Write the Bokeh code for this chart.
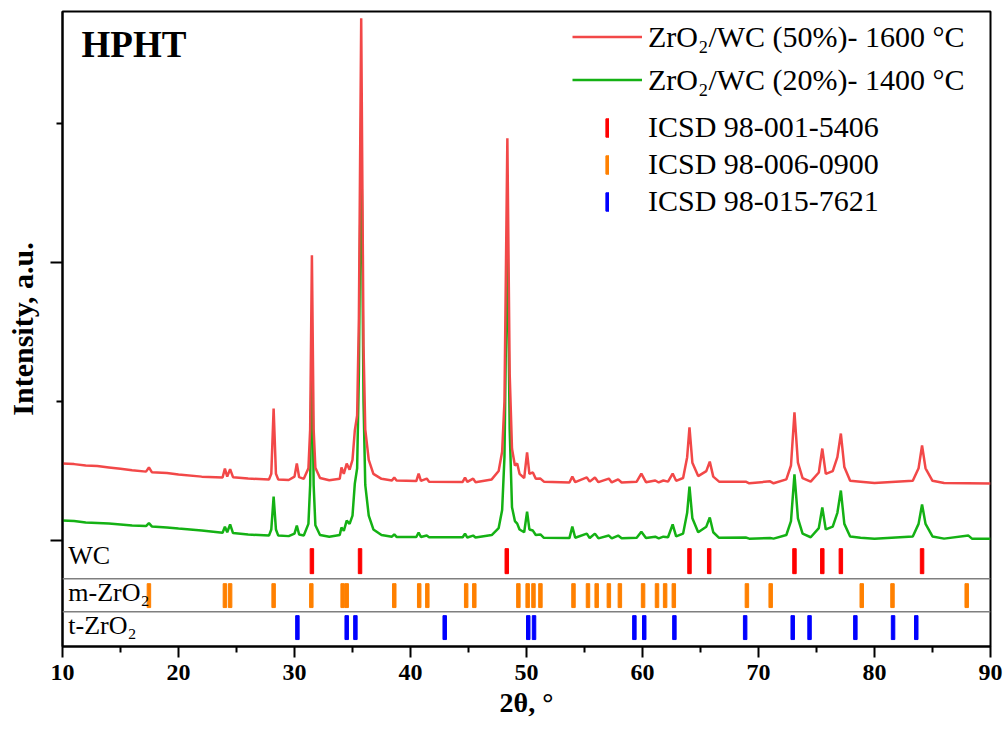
from bokeh.plotting import figure
from bokeh.models import Range1d, FixedTicker, Legend, LegendItem, Label, Span
from bokeh.core.properties import value
from bokeh.embed import file_html
from bokeh.resources import INLINE

# ---------------- data ----------------
two_theta_red = [10.0, 11.0, 12.0, 13.0, 14.0, 15.0, 16.0, 17.2, 17.45, 17.7, 19.0, 20.0, 22.0,
                 23.8, 24.0, 24.2, 24.45, 24.7, 26.0, 27.8, 28.0, 28.2, 28.4, 28.6, 29.5, 30.0,
                 30.2, 30.4, 30.8, 31.2, 31.35, 31.5, 31.65, 31.8, 32.2, 33.0, 33.9, 34.05, 34.25,
                 34.5, 34.75, 35.0, 35.2, 35.4, 35.55, 35.75, 35.95, 36.1, 36.4, 36.8, 37.5, 38.4,
                 38.6, 38.8, 40.5, 40.7, 40.9, 41.4, 41.6, 44.5, 44.7, 44.9, 45.4, 45.6, 47.0,
                 47.6, 47.9, 48.1, 48.35, 48.55, 48.75, 49.0, 49.2, 49.4, 49.8, 50.05, 50.25,
                 50.55, 50.8, 51.2, 51.5, 53.7, 53.95, 54.2, 55.2, 55.45, 55.9, 56.2, 57.1,
                 57.35, 57.9, 58.2, 59.5, 59.9, 60.3, 61.1, 61.4, 61.8, 62.2, 62.6, 62.9, 63.5,
                 63.85, 64.05, 64.3, 64.8, 65.5, 65.8, 66.1, 66.6, 68.9, 69.2, 71.0, 71.3, 72.4,
                 72.8, 73.1, 73.4, 73.8, 74.5, 75.2, 75.5, 75.8, 76.4, 76.8, 77.1, 77.4, 77.9,
                 78.8, 80.0, 83.3, 83.8, 84.1, 84.4, 85.0, 86.0, 90.0]
intensity_red = [277, 275, 270, 268, 263, 258, 253, 248, 263, 246, 243, 238, 230,
                 227, 259, 230, 257, 228, 223, 220, 240, 475, 240, 220, 218, 230,
                 277, 228, 222, 260, 400, 1026, 400, 262, 225, 217, 222, 263, 240,
                 277, 255, 290, 396, 450, 800, 1879, 700, 400, 290, 240, 222, 216,
                 227, 216, 214, 241, 215, 223, 212, 211, 227, 211, 223, 210, 220,
                 250, 320, 500, 1447, 600, 330, 270, 277, 240, 225, 317, 240,
                 245, 222, 223, 212, 209, 230, 210, 227, 212, 227, 210, 223,
                 209, 220, 209, 212, 241, 210, 216, 209, 216, 212, 241, 215, 225,
                 300, 407, 280, 232, 250, 284, 230, 212, 212, 206, 213, 206, 220,
                 270, 461, 280, 225, 212, 245, 331, 240, 250, 300, 385, 265, 215,
                 212, 207, 215, 260, 342, 260, 215, 207, 205]

two_theta_green = [10.0, 11.0, 12.0, 13.0, 14.0, 15.0, 16.0, 17.2, 17.45, 17.7, 19.0, 20.0, 22.0,
                   23.8, 24.0, 24.2, 24.45, 24.7, 26.0, 27.8, 28.0, 28.2, 28.4, 28.6, 29.5, 30.0,
                   30.2, 30.4, 30.8, 31.2, 31.35, 31.5, 31.65, 31.8, 32.2, 33.0, 33.9, 34.05, 34.25,
                   34.5, 34.75, 35.0, 35.2, 35.4, 35.55, 35.75, 35.95, 36.1, 36.4, 36.8, 37.5, 38.4,
                   38.6, 38.8, 40.5, 40.7, 40.9, 41.4, 41.6, 44.5, 44.7, 44.9, 45.4, 45.6, 47.0,
                   47.6, 47.9, 48.1, 48.35, 48.55, 48.75, 49.0, 49.2, 49.4, 49.8, 50.05, 50.25,
                   50.55, 50.8, 51.2, 51.5, 53.7, 53.95, 54.2, 55.2, 55.45, 55.9, 56.2, 57.1,
                   57.35, 57.9, 58.2, 59.5, 59.9, 60.3, 61.1, 61.4, 61.8, 62.2, 62.6, 62.9, 63.5,
                   63.85, 64.05, 64.3, 64.8, 65.5, 65.8, 66.1, 66.6, 68.9, 69.2, 71.0, 71.3, 72.4,
                   72.8, 73.1, 73.4, 73.8, 74.5, 75.2, 75.5, 75.8, 76.4, 76.8, 77.1, 77.4, 77.9,
                   78.8, 80.0, 83.3, 83.8, 84.1, 84.4, 85.0, 86.0, 88.1, 88.4, 90.0]
intensity_green = [72, 70, 65, 63, 61, 58, 54, 52, 63, 51, 47, 43, 36,
                   28, 50, 30, 58, 27, 22, 18, 40, 158, 40, 18, 16, 25,
                   54, 22, 18, 60, 200, 734, 200, 55, 20, 14, 20, 47, 35,
                   72, 60, 90, 205, 260, 600, 1526, 500, 200, 90, 40, 20, 14,
                   22, 13, 13, 29, 13, 18, 12, 12, 25, 11, 18, 11, 20,
                   45, 110, 300, 1127, 400, 120, 70, 61, 40, 30, 104, 40,
                   36, 20, 22, 10, 9, 50, 10, 25, 9, 25, 8, 18,
                   8, 18, 8, 10, 32, 9, 14, 8, 14, 12, 58, 15, 25,
                   100, 194, 80, 30, 50, 83, 30, 10, 11, 7, 9, 7, 20,
                   70, 238, 80, 25, 12, 45, 119, 40, 50, 100, 180, 60, 15,
                   10, 7, 15, 60, 130, 60, 15, 7, 18, 7, 7]

wc_positions = [31.5, 35.65, 48.3, 64.05, 65.75, 73.1, 75.5, 77.1, 84.1]
m_zro2_positions = [17.45, 24.0, 24.45, 28.2, 31.45, 34.15, 34.5, 38.6, 40.75, 41.45, 44.8, 45.5,
                    49.3, 50.1, 50.6, 51.2, 54.05, 55.3, 56.05, 57.1, 58.05, 60.05, 61.25, 61.95,
                    62.7, 69.0, 71.05, 78.9, 81.55, 87.95]
t_zro2_positions = [30.25, 34.5, 35.25, 42.95, 50.15, 50.65, 59.3, 60.15, 62.75, 68.85, 72.95,
                    74.4, 78.35, 81.6, 83.6]

series_labels = ["ZrO\u2082/WC (50%)- 1600 \u00b0C", "ZrO\u2082/WC (20%)- 1400 \u00b0C"]
reference_labels = ["ICSD 98-001-5406", "ICSD 98-006-0900", "ICSD 98-015-7621"]
phase_labels = ["WC", "m-ZrO\u2082", "t-ZrO\u2082"]
x_ticks = [10, 20, 30, 40, 50, 60, 70, 80, 90]

# ---------------- layout / style ----------------
FONT = "Liberation Serif"
RED, GREEN = "#f24848", "#14b114"
BAR_COLORS = ["#ff0000", "#ff8000", "#0000ff"]
bar_rows = [(-119, -29), (-241, -155), (-356, -270)]   # (bottom, top) of each reference row
separators = [-137, -256]
row_label_y = [-54, -187, -306]

p = figure(width=1007, height=728, output_backend="svg", toolbar_location=None,
           x_range=Range1d(10, 90), y_range=Range1d(-381, 1903),
           min_border_left=62, min_border_right=17, min_border_top=11, min_border_bottom=82)
p.xgrid.visible = False
p.ygrid.visible = False
p.outline_line_color = "black"
p.outline_line_width = 2
p.background_fill_color = "white"
p.border_fill_color = "white"

p.xaxis.ticker = FixedTicker(ticks=x_ticks, minor_ticks=[t + 5 for t in x_ticks[:-1]])
p.yaxis.ticker = FixedTicker(ticks=[0, 1000], minor_ticks=[500, 1500])
p.yaxis.major_label_overrides = {0: "", 1000: ""}
p.yaxis.major_label_text_font_size = "0px"
for ax in (p.xaxis, p.yaxis):
    ax.axis_line_width = 2
    ax.axis_line_color = "black"
    ax.major_tick_line_width = 2
    ax.minor_tick_line_width = 2
    ax.major_tick_in = 0
    ax.minor_tick_in = 0
    ax.axis_label_text_font = FONT
    ax.axis_label_text_font_style = "bold"
    ax.axis_label_text_color = "black"
p.xaxis.major_tick_out = 11
p.xaxis.minor_tick_out = 6
p.yaxis.major_tick_out = 12
p.yaxis.minor_tick_out = 6
p.xaxis.major_label_text_font = FONT
p.xaxis.major_label_text_font_style = "bold"
p.xaxis.major_label_text_font_size = "24px"
p.xaxis.major_label_text_color = "black"
p.xaxis.major_label_standoff = 7
p.xaxis.axis_label = "2\u03b8, \u00b0"
p.xaxis.axis_label_text_font_size = "28px"
p.xaxis.axis_label_standoff = 4
p.yaxis.axis_label = "Intensity, a.u."
p.yaxis.axis_label_text_font_size = "30px"
p.yaxis.axis_label_standoff = 12

for s in separators:
    p.add_layout(Span(location=s, dimension="width", line_color="#7f7f7f", line_width=1.5))

r_green = p.line(two_theta_green, intensity_green, line_color=GREEN, line_width=2.5)
r_red = p.line(two_theta_red, intensity_red, line_color=RED, line_width=2.5)

bar_renderers = []
for pos, (b, t), c in zip([wc_positions, m_zro2_positions, t_zro2_positions], bar_rows, BAR_COLORS):
    r = p.vbar(x=pos, bottom=b, top=t, width=0.3, fill_color=c, line_color=c, line_width=1)
    bar_renderers.append(r)

p.text(x=[10.5] * 3, y=row_label_y, text=phase_labels, text_font=value(FONT),
       text_font_size=value("26px"), text_baseline="middle", text_align="left", text_color="black")

p.add_layout(Label(x=19, y=602, x_units="screen", y_units="screen", text="HPHT",
                   text_font=FONT, text_font_style="bold", text_font_size="37px",
                   text_baseline="middle", text_color="black"))

leg1 = Legend(items=[LegendItem(label=series_labels[0], renderers=[r_red]),
                     LegendItem(label=series_labels[1], renderers=[r_green])],
              location=(510, 548), glyph_width=70, glyph_height=37, label_height=37,
              spacing=6, padding=0, margin=0, border_line_color=None, background_fill_alpha=0,
              label_text_font=FONT, label_text_font_size="30px", label_standoff=6,
              label_text_color="black")
leg2 = Legend(items=[LegendItem(label=lab, renderers=[r]) for lab, r in zip(reference_labels, bar_renderers)],
              location=(543, 428), glyph_width=4, glyph_height=23, label_height=31,
              spacing=3, padding=0, margin=0, border_line_color=None, background_fill_alpha=0,
              label_text_font=FONT, label_text_font_size="30px", label_standoff=39,
              label_text_color="black")
p.add_layout(leg1)
p.add_layout(leg2)

open("out.html", "w").write(file_html(p, INLINE))
